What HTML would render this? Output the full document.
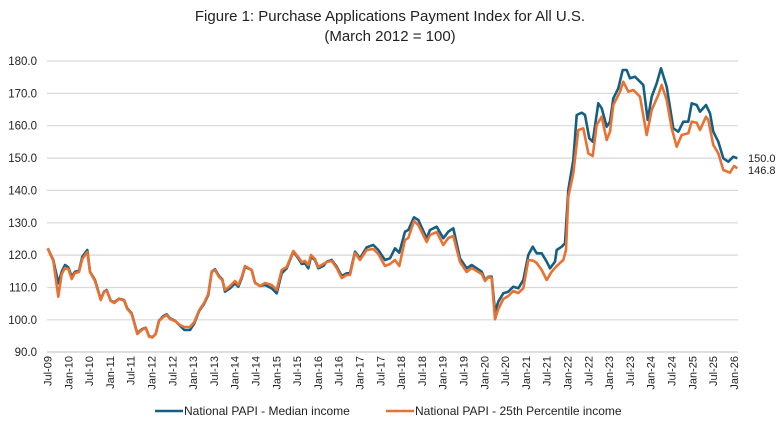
<!DOCTYPE html>
<html><head><meta charset="utf-8"><style>
html,body{margin:0;padding:0;background:#fff;}
svg text{font-family:"Liberation Sans",sans-serif;fill:#222;}
</style></head><body>
<svg width="780" height="424" viewBox="0 0 780 424" xmlns="http://www.w3.org/2000/svg">
<text x="390" y="21" font-size="15" text-anchor="middle">Figure 1: Purchase Applications Payment Index for All U.S.</text>
<text x="390" y="41" font-size="15" text-anchor="middle">(March 2012 = 100)</text>
<g stroke="#d9d9d9" stroke-width="1.2">
<line x1="47" x2="738" y1="61" y2="61"/><line x1="47" x2="738" y1="93.4" y2="93.4"/><line x1="47" x2="738" y1="125.7" y2="125.7"/><line x1="47" x2="738" y1="158.1" y2="158.1"/><line x1="47" x2="738" y1="190.4" y2="190.4"/><line x1="47" x2="738" y1="222.8" y2="222.8"/><line x1="47" x2="738" y1="255.1" y2="255.1"/><line x1="47" x2="738" y1="287.5" y2="287.5"/><line x1="47" x2="738" y1="319.8" y2="319.8"/>
</g>
<line x1="47" x2="738" y1="352" y2="352" stroke="#bfbfbf" stroke-width="1"/>
<g font-size="11.5" text-anchor="end">
<text x="37" y="65">180.0</text><text x="37" y="97.4">170.0</text><text x="37" y="129.7">160.0</text><text x="37" y="162.1">150.0</text><text x="37" y="194.4">140.0</text><text x="37" y="226.8">130.0</text><text x="37" y="259.1">120.0</text><text x="37" y="291.5">110.0</text><text x="37" y="323.8">100.0</text><text x="37" y="356">90.0</text>
</g>
<g font-size="11" text-anchor="end" id="xl"></g>
<polyline fill="none" stroke="#156082" stroke-width="2.6" stroke-linejoin="round" points="47.7,248.3 53.3,260 58.3,283.3 61.7,271.7 65,265 68.3,267.3 71.7,276.7 75,271.7 79,270.7 82.3,256.7 87.3,250 90,271.7 95,280 100.7,299.3 104,291.7 106.7,290 110.7,300.7 114.3,302.3 119,298.7 124,300 127.3,308.3 131.7,313.3 137.3,333.3 141.7,329.3 145.7,327.7 149,336 152.3,337.3 155.7,334 159,320.7 163.3,316 166.7,314.3 170,318.3 175,320.7 180,325.7 184.3,330 190,330 194.3,323.3 199.3,310.7 204,304 208.3,295 211.7,271.7 215,269.3 219,276 222.3,279.3 225,291.7 230,288.3 235,283.3 238.3,286.7 241.7,278.3 245,267 251.7,270 255,282.7 260,286 265,285 271.7,288.3 276.7,293.3 281.7,273.3 286.7,268.3 293.3,251.7 298.3,258.3 301.7,264 305,263.3 308.3,268.3 311,256.7 315,260 318.3,268.3 323.3,266 326.7,261.7 331.7,260 336.7,266.7 341.7,276 346.7,273.3 350,273.3 355,251.7 360,258.3 366.7,247.3 373.3,245 378.3,250 385,260 390,258.3 395,248.3 399.3,252.7 405,231.7 408.3,230 414,217.3 418.3,220 426.7,238.3 430,230 436.7,226.7 443.3,238.3 448.3,231.7 453.3,228.3 460,258.3 466.7,268.3 471.7,265 476.7,268.3 481.7,271.7 485,280 488.3,276.7 491.7,276.7 495,311.7 498.3,301.7 503.3,293.3 508.3,291.7 513.3,286.7 518.3,288.3 523.3,280 528.3,255 532.7,246.7 536.7,253.3 541.7,253.3 546.7,261.7 550,268.3 555,261.7 556.7,250 561.7,246.7 565,243.3 568.3,190 573.3,160 576.7,115 581.7,112.7 585,115 589.3,138.3 592.7,141.7 598.3,103.3 601.7,108.3 606.7,126.7 610,121.7 613.3,98.3 618.3,88.3 622.7,70 626.7,70 630,78.3 635,76.7 640,81.7 643.3,85 647.7,120 651.7,96.7 656.7,83.3 661,68.3 666.7,86.7 673.3,128.3 678.3,131.7 683.3,121.7 688.3,121.7 691.7,103.3 696.7,105 700,111.7 706,105 710,113.3 713.3,131.7 718.3,141.7 723.3,158.3 728.3,161.7 733.3,156.7 737.3,158.3"/>
<polyline fill="none" stroke="#e97132" stroke-width="2.6" stroke-linejoin="round" points="47.7,248.3 53.3,261 58.3,296.7 61.7,274 65,268 68.3,269 71.7,279 75,273 79,272 82.3,259 87.3,252 90,272 95,281 100.7,300 104,292 106.7,290.5 110.7,301 114.3,303 119,299 124,300.5 127.3,309 131.7,314 137.3,334 141.7,330 145.7,328 149,336.5 152.3,337.5 155.7,334 159,321 163.3,317 166.7,315 170,319 175,321 180,325 184.3,327 190,327 194.3,322 199.3,310 204,303 208.3,294 211.7,272 215,270 219,277 222.3,280 225,290 230,286 235,281 238.3,285 241.7,277 245,266 251.7,270 255,283 260,286 265,283 271.7,285 276.7,290 281.7,270 286.7,267 293.3,251 298.3,257 301.7,262 305,261 308.3,265 311,255 315,259 318.3,267 323.3,264 326.7,262 331.7,261 336.7,268 341.7,278 346.7,275 350,275 355,253 360,260 366.7,250 373.3,249 378.3,254 385,266 390,264 395,260 399.3,266 405,240 408.3,238 414,221 418.3,225 426.7,242 430,235 436.7,232 443.3,245 448.3,238 453.3,236 460,262 466.7,272 471.7,268 476.7,271 481.7,274 485,281 488.3,277 491.7,278 495,319.3 498.3,309 503.3,299 508.3,296 513.3,291 518.3,293 523.3,288.3 528.3,260 533.3,260.7 536.7,263 541.7,270 546.7,280 551.7,271.7 556.7,266 563.3,260 566,250 568.3,196.7 573.3,173.3 578.3,130 583.3,128.3 588.3,153.3 592.7,156 596.7,125 601.7,116.7 606.7,140 610,131.7 613.3,105 620,91.7 623.3,81.7 628.3,91.7 633.3,90 640,96.7 646.7,135 651.7,110 658.3,95 661.7,85 666.7,100 671.7,128.3 676.7,146.7 681.7,135 688.3,133.3 691.7,121.7 696.7,122.7 700,130 706,116.7 708.3,120 713.3,145 718.3,153.3 723.3,170 730,172.7 734,166 737.3,168.3"/>
<text x="748" y="162" font-size="11">150.0</text>
<text x="748" y="174" font-size="11">146.8</text>
<line x1="155" x2="183" y1="411" y2="411" stroke="#156082" stroke-width="2.6"/>
<text x="184" y="415" font-size="12">National PAPI - Median income</text>
<line x1="386" x2="414" y1="411" y2="411" stroke="#e97132" stroke-width="2.6"/>
<text x="415" y="415" font-size="12">National PAPI - 25th Percentile income</text>
<g font-size="11" text-anchor="end">
<text transform="translate(51.5,356) rotate(-90)">Jul-09</text>
<text transform="translate(72.3,356) rotate(-90)">Jan-10</text>
<text transform="translate(93.1,356) rotate(-90)">Jul-10</text>
<text transform="translate(113.9,356) rotate(-90)">Jan-11</text>
<text transform="translate(134.7,356) rotate(-90)">Jul-11</text>
<text transform="translate(155.5,356) rotate(-90)">Jan-12</text>
<text transform="translate(176.3,356) rotate(-90)">Jul-12</text>
<text transform="translate(197.1,356) rotate(-90)">Jan-13</text>
<text transform="translate(217.9,356) rotate(-90)">Jul-13</text>
<text transform="translate(238.7,356) rotate(-90)">Jan-14</text>
<text transform="translate(259.5,356) rotate(-90)">Jul-14</text>
<text transform="translate(280.3,356) rotate(-90)">Jan-15</text>
<text transform="translate(301.1,356) rotate(-90)">Jul-15</text>
<text transform="translate(321.9,356) rotate(-90)">Jan-16</text>
<text transform="translate(342.7,356) rotate(-90)">Jul-16</text>
<text transform="translate(363.5,356) rotate(-90)">Jan-17</text>
<text transform="translate(384.3,356) rotate(-90)">Jul-17</text>
<text transform="translate(405.1,356) rotate(-90)">Jan-18</text>
<text transform="translate(425.9,356) rotate(-90)">Jul-18</text>
<text transform="translate(446.7,356) rotate(-90)">Jan-19</text>
<text transform="translate(467.5,356) rotate(-90)">Jul-19</text>
<text transform="translate(488.3,356) rotate(-90)">Jan-20</text>
<text transform="translate(509.1,356) rotate(-90)">Jul-20</text>
<text transform="translate(529.9,356) rotate(-90)">Jan-21</text>
<text transform="translate(550.7,356) rotate(-90)">Jul-21</text>
<text transform="translate(571.5,356) rotate(-90)">Jan-22</text>
<text transform="translate(592.3,356) rotate(-90)">Jul-22</text>
<text transform="translate(613.1,356) rotate(-90)">Jan-23</text>
<text transform="translate(633.9,356) rotate(-90)">Jul-23</text>
<text transform="translate(654.7,356) rotate(-90)">Jan-24</text>
<text transform="translate(675.5,356) rotate(-90)">Jul-24</text>
<text transform="translate(696.3,356) rotate(-90)">Jan-25</text>
<text transform="translate(717.1,356) rotate(-90)">Jul-25</text>
<text transform="translate(737.9,356) rotate(-90)">Jan-26</text>
</g>
</svg>
</body></html>
